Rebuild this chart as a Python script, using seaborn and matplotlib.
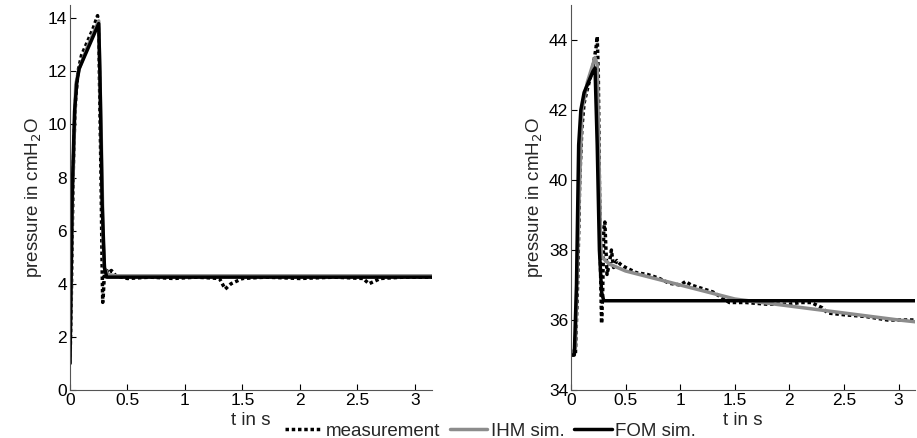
import matplotlib
matplotlib.use('Agg')
import matplotlib.pyplot as plt
import seaborn as sns


# Left plot: pressure curves, t in s / pressure in cmH2O
left_meas_t = [0, 0.01, 0.02, 0.03, 0.04, 0.05, 0.07, 0.1, 0.15, 0.2, 0.24, 0.25, 0.27, 0.28, 0.285,
               0.29, 0.3, 0.31, 0.33, 0.36, 0.4, 0.5, 0.7, 0.9, 1.1, 1.3, 1.35, 1.4, 1.45, 1.5, 1.7,
               2.0, 2.3, 2.55, 2.6, 2.65, 2.7, 2.9, 3.15]
left_meas_p = [1.0, 3.0, 6.0, 8.5, 10.0, 11.0, 12.0, 12.6, 13.1, 13.6, 14.1, 13.5, 8.0, 4.5, 3.3,
               3.6, 4.4, 4.6, 4.4, 4.5, 4.3, 4.2, 4.25, 4.2, 4.25, 4.2, 3.8, 4.0, 4.1, 4.2, 4.25,
               4.2, 4.25, 4.2, 4.0, 4.1, 4.2, 4.25, 4.25]

left_ihm_t = [0, 0.02, 0.05, 0.08, 0.15, 0.25, 0.27, 0.29, 0.3, 0.33, 0.4, 3.15]
left_ihm_p = [1.0, 7.0, 11.5, 12.1, 12.9, 13.9, 10.0, 5.5, 4.6, 4.35, 4.3, 4.3]

left_fom_t = [0, 0.02, 0.04, 0.06, 0.08, 0.15, 0.25, 0.26, 0.28, 0.3, 0.32, 3.15]
left_fom_p = [1.0, 7.5, 10.5, 11.6, 12.1, 12.8, 13.8, 12.0, 7.0, 4.6, 4.25, 4.25]

# Right plot
right_meas_t = [0, 0.04, 0.06, 0.08, 0.1, 0.12, 0.15, 0.2, 0.23, 0.24, 0.25, 0.26, 0.27, 0.28,
                0.29, 0.3, 0.31, 0.32, 0.33, 0.35, 0.37, 0.39, 0.42, 0.45, 0.5, 0.6, 0.7, 0.8,
                0.9, 1.0, 1.05, 1.1, 1.2, 1.3, 1.4, 1.45, 1.6, 1.8, 2.0, 2.1, 2.2, 2.3, 2.35,
                2.5, 2.7, 2.9, 3.15]
right_meas_p = [35.0, 35.0, 37.0, 40.0, 41.5, 42.2, 42.6, 43.2, 43.8, 44.1, 43.0, 40.0, 37.5, 35.9,
                36.8, 38.6, 38.8, 38.0, 37.3, 37.6, 38.0, 37.5, 37.7, 37.6, 37.5, 37.35, 37.3, 37.2,
                37.05, 37.0, 37.1, 37.0, 36.9, 36.8, 36.6, 36.5, 36.5, 36.45, 36.45, 36.5, 36.5,
                36.35, 36.2, 36.15, 36.1, 36.0, 36.0]

right_ihm_t = [0, 0.04, 0.07, 0.1, 0.15, 0.22, 0.24, 0.26, 0.27, 0.28, 0.35, 0.5, 0.75, 1.0,
               1.25, 1.5, 2.0, 2.5, 3.0, 3.15]
right_ihm_p = [35.0, 35.2, 39.0, 42.0, 42.8, 43.5, 43.3, 40.0, 38.3, 37.8, 37.6, 37.4, 37.2, 37.0,
               36.8, 36.6, 36.4, 36.2, 36.0, 35.95]

right_fom_t = [0, 0.03, 0.05, 0.07, 0.09, 0.12, 0.2, 0.22, 0.24, 0.26, 0.28, 0.3, 3.15]
right_fom_p = [35.0, 35.0, 37.0, 41.0, 42.0, 42.5, 43.1, 43.2, 41.0, 38.0, 36.8, 36.55, 36.55]


sns.set_theme(style='ticks')
plt.rcParams['font.family'] = ['Liberation Sans', 'DejaVu Sans']

fig = plt.figure(figsize=(9.17, 4.38), dpi=100)
ax1 = fig.add_axes([0.0763, 0.1096, 0.395, 0.879])
ax2 = fig.add_axes([0.6227, 0.1096, 0.375, 0.879])

panels = [
    (ax1, left_meas_t, left_meas_p, left_ihm_t, left_ihm_p, left_fom_t, left_fom_p),
    (ax2, right_meas_t, right_meas_p, right_ihm_t, right_ihm_p, right_fom_t, right_fom_p),
]

for ax, mt, mp, it, ip, ft, fp in panels:
    sns.lineplot(x=mt, y=mp, ax=ax, sort=False, color='black', linewidth=2.5,
                 label='measurement').lines[-1].set_dashes([1.0, 0.8])
    sns.lineplot(x=it, y=ip, ax=ax, sort=False, color='#8c8c8c', linewidth=2.5, label='IHM sim.')
    sns.lineplot(x=ft, y=fp, ax=ax, sort=False, color='black', linewidth=2.5, label='FOM sim.')
    for ln in ax.lines:
        ln.set_dash_capstyle('butt')
    ax.set_xlim(0, 3.15)
    ax.set_xticks([0, 0.5, 1, 1.5, 2, 2.5, 3])
    ax.set_xticklabels(['0', '0.5', '1', '1.5', '2', '2.5', '3'])
    ax.set_xlabel('t in s', fontsize=13.5, labelpad=3)
    ax.set_ylabel('pressure in cmH$_2$O', fontsize=13.5, labelpad=3)
    ax.tick_params(direction='in', length=4, width=0.8, labelsize=12.5, colors='black', pad=2)
    sns.despine(ax=ax)
    for s in ['left', 'bottom']:
        ax.spines[s].set_color('#555555')
        ax.spines[s].set_linewidth(0.8)
    ax.get_legend().remove()

ax1.set_ylim(0, 14.5)
ax1.set_yticks([0, 2, 4, 6, 8, 10, 12, 14])
ax2.set_ylim(34, 45)
ax2.set_yticks([34, 36, 38, 40, 42, 44])

handles, labels = ax1.get_legend_handles_labels()
fig.legend(handles, labels, loc='lower center', bbox_to_anchor=(0.535, -0.042), ncol=3,
           frameon=False, fontsize=13.5, handlelength=2.0, handletextpad=0.2, columnspacing=0.5)

plt.savefig('out.png', dpi=100)
